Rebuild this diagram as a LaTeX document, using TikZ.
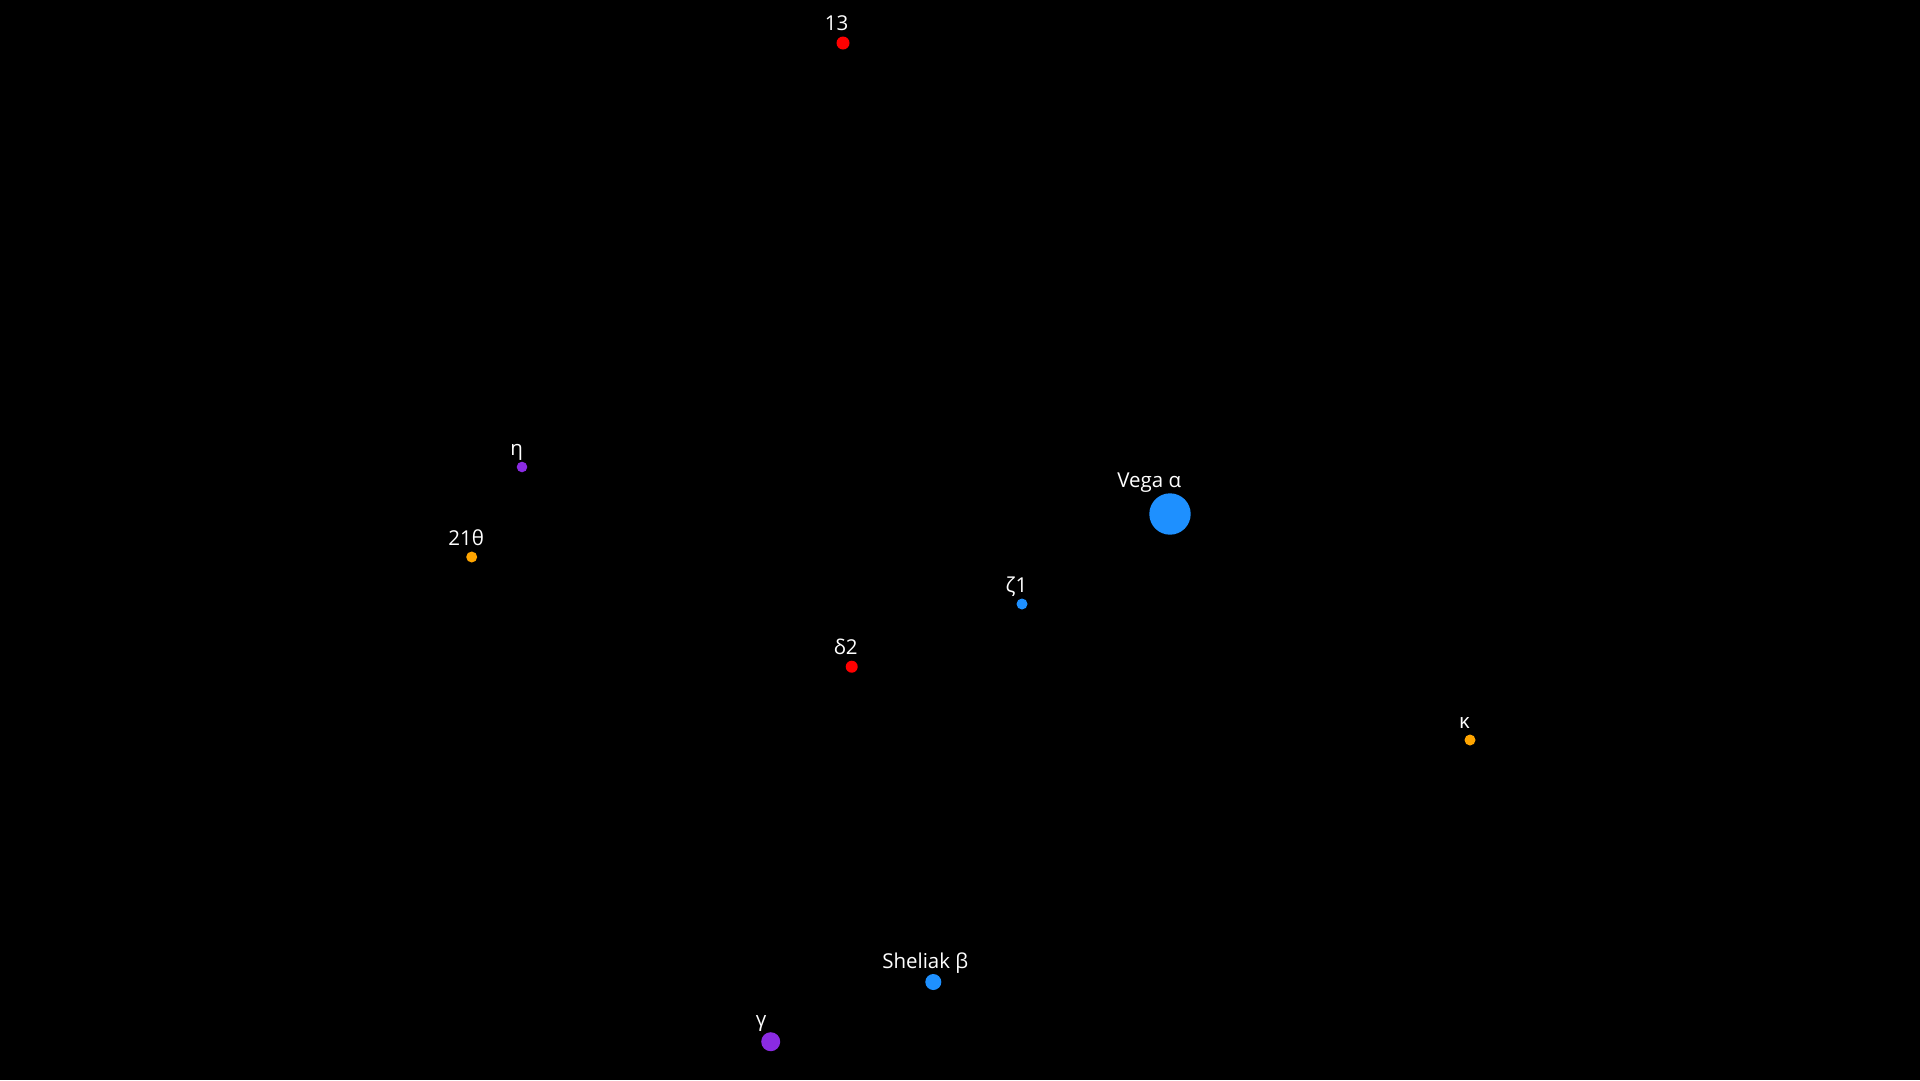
\documentclass[tikz,border=0pt]{standalone}
\usepackage{fontspec}
\setmainfont{Open Sans}
\usetikzlibrary{positioning}

\definecolor{starblue}{RGB}{30,144,255}
\definecolor{starred}{RGB}{255,0,0}
\definecolor{starorange}{RGB}{255,165,0}
\definecolor{starpurple}{RGB}{138,43,226}

\begin{document}
\begin{tikzpicture}[
  x=1pt, y=-1pt,
  star/.style={circle, draw=none, inner sep=0pt, fill=#1},
  lbl/.style={text=white, inner sep=0pt, text depth=0pt, font=\fontsize{20.5}{24}\selectfont}
]

% --- Sky ---
\fill[black] (0,0) rectangle (1920,1080);
\useasboundingbox (0,0) rectangle (1920,1080);

% --- Stars ---
\node[star=starred, minimum size=13pt]     (r13)     at (843,43)   {};
\node[star=starpurple, minimum size=10.6pt] (eta)    at (522,467)  {};
\node[star=starorange, minimum size=11pt]  (theta)   at (471.7,557) {};
\node[star=starblue, minimum size=41.4pt]  (vega)    at (1170,514) {};
\node[star=starblue, minimum size=11pt]    (zeta)    at (1022,604) {};
\node[star=starred, minimum size=12pt]     (delta)   at (851.7,666.7) {};
\node[star=starorange, minimum size=11pt]  (kappa)   at (1470,740) {};
\node[star=starblue, minimum size=16pt]    (sheliak) at (933.3,982) {};
\node[star=starpurple, minimum size=19pt]  (gamma)   at (770.7,1041.7) {};

% --- Labels ---
\node[lbl, above=5.5pt of r13, xshift=-6.5pt]      (r13lbl)     {13};
\node[lbl, above=5.5pt of eta, xshift=-5.3pt]      (etalbl)     {η};
\node[lbl, above=5.5pt of theta, xshift=-5.5pt]    (thetalbl)   {21θ};
\node[lbl, above=5.5pt of vega, xshift=-20.7pt]    (vegalbl)    {Vega α};
\node[lbl, above=5.5pt of zeta, xshift=-5.5pt]     (zetalbl)    {ζ1};
\node[lbl, above=5.5pt of delta, xshift=-6pt]      (deltalbl)   {δ2};
\node[lbl, above=5.5pt of kappa, xshift=-5.5pt]    (kappalbl)   {κ};
\node[lbl, above=5.5pt of sheliak, xshift=-8pt]    (sheliaklbl) {Sheliak β};
\node[lbl, above=5.5pt of gamma, xshift=-9.5pt]    (gammalbl)   {γ};

\end{tikzpicture}
\end{document}
